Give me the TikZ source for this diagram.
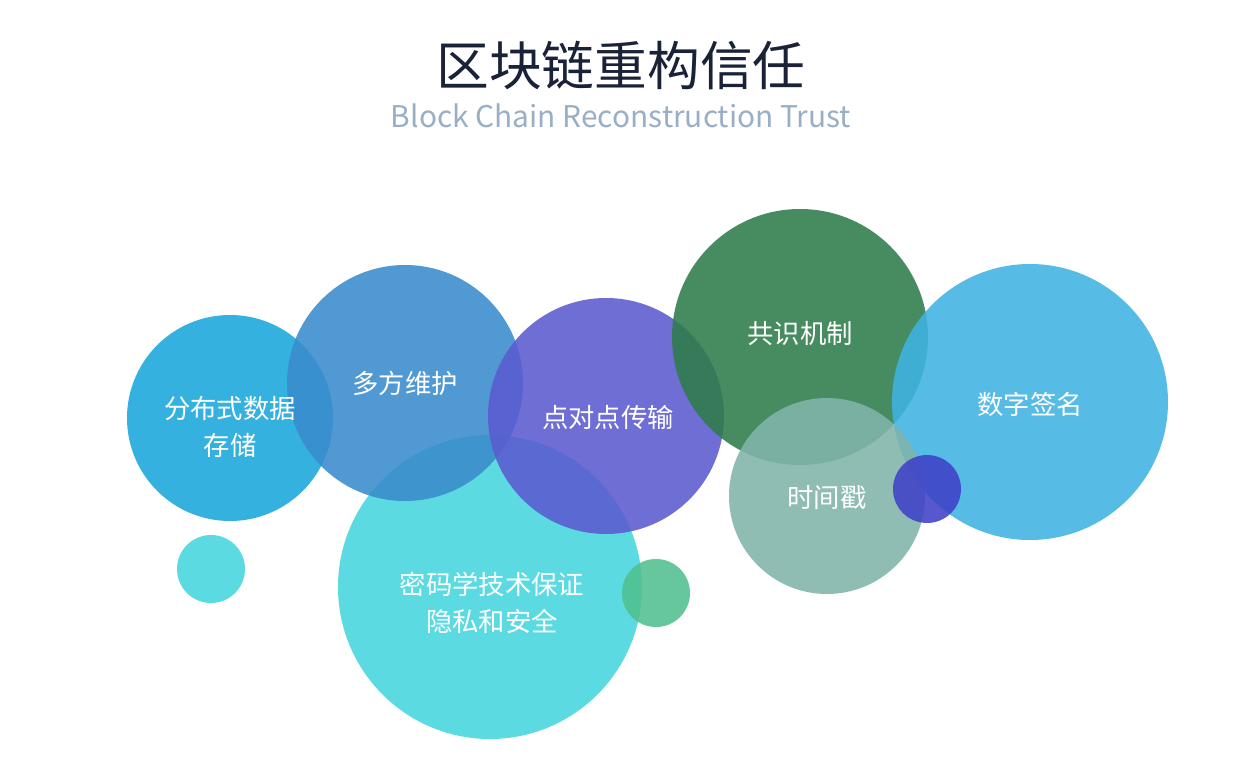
\documentclass[tikz,border=0pt]{standalone}
\usepackage{fontspec}
\setmainfont{Noto Sans CJK SC}
\begin{document}
\begin{tikzpicture}[x=0.02cm,y=-0.02cm,
  bub/.style={circle,inner sep=0pt,fill opacity=0.88},
  lab/.style={text=white,font=\fontsize{15}{21}\selectfont,align=center}]
\useasboundingbox (0,0) rectangle (1242,761);
\fill[white] (0,0) rectangle (1242,761);
\definecolor{tc}{HTML}{1A2238}
\definecolor{sc}{HTML}{98AFC6}
\node (t) at (621,65) [text=tc] {\fontsize{30}{34}\selectfont 区块链重构信任};
\node (s) at (621,116) [text=sc] {\fontsize{17}{20}\selectfont Block Chain Reconstruction Trust};
\definecolor{c1}{HTML}{1AA7DC}
\definecolor{c2}{HTML}{3A8CCC}
\definecolor{c3}{HTML}{45D6DD}
\definecolor{c4}{HTML}{5A5BD0}
\definecolor{c5}{HTML}{2E7D4A}
\definecolor{c6}{HTML}{80B5AA}
\definecolor{c7}{HTML}{3FB3E3}
\definecolor{c8}{HTML}{4040C8}
\definecolor{c9}{HTML}{50C08E}
\node[bub,fill=c1,minimum size=206*0.02cm] (a) at (230,418) {};
\node[bub,fill=c3,minimum size=304*0.02cm] (c) at (490,587) {};
\node[bub,fill=c2,minimum size=236*0.02cm] (b) at (405,383) {};
\node[bub,fill=c4,minimum size=236*0.02cm] (d) at (606,416) {};
\node[bub,fill=c5,minimum size=256*0.02cm] (e) at (800,337) {};
\node[bub,fill=c7,minimum size=276*0.02cm] (g) at (1030,402) {};
\node[bub,fill=c6,minimum size=196*0.02cm] (f) at (827,496) {};
\node[bub,fill=c3,minimum size=68*0.02cm] (p) at (211,569) {};
\node[bub,fill=c9,minimum size=68*0.02cm] (q) at (656,593) {};
\node[bub,fill=c8,minimum size=68*0.02cm] (r) at (927,489) {};
\node[lab] (al) at (230,427) {分布式数据\\存储};
\node[lab] (bl) at (405,383) {多方维护};
\node[lab] (cl) at (492,603) {密码学技术保证\\隐私和安全};
\node[lab] (dl) at (608,417) {点对点传输};
\node[lab] (el) at (800,333) {共识机制};
\node[lab] (fl) at (827,498) {时间戳};
\node[lab] (gl) at (1030,404) {数字签名};
\end{tikzpicture}
\end{document}
